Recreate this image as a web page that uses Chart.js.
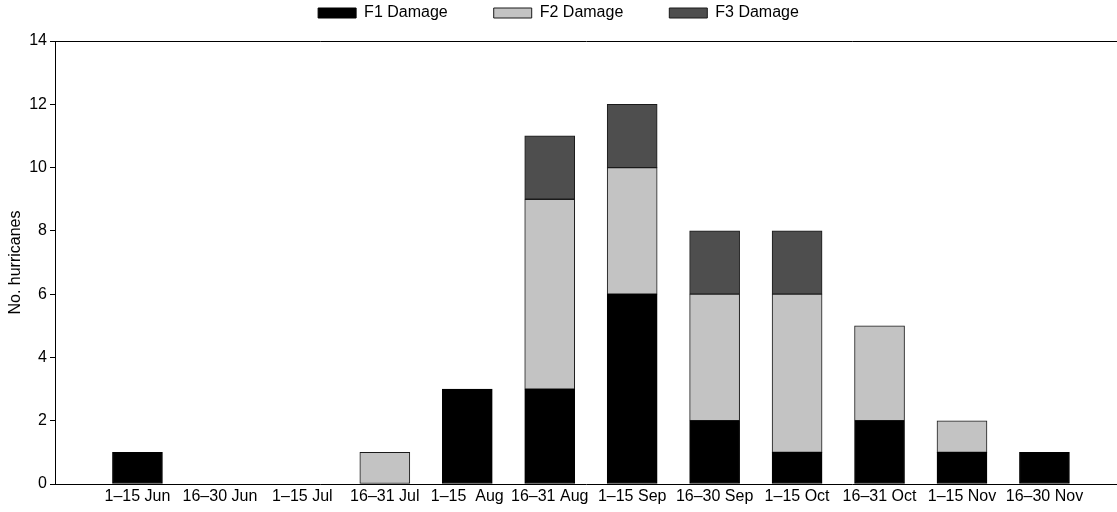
<!DOCTYPE html>
<html>
<head>
<meta charset="utf-8">
<script src="https://cdn.jsdelivr.net/npm/chart.js@4.4.0/dist/chart.umd.min.js"></script>
<style>
html,body{margin:0;padding:0;background:#fff;}
#wrap{width:1117px;height:512px;position:relative;}
</style>
</head>
<body>
<div id="wrap"><canvas id="c"></canvas></div>
<script>
const categories = ['1–15 Jun', '16–30 Jun', '1–15 Jul', '16–31 Jul', '1–15  Aug', '16–31 Aug',
                    '1–15 Sep', '16–30 Sep', '1–15 Oct', '16–31 Oct', '1–15 Nov', '16–30 Nov'];
const f1Damage = [1, 0, 0, 0, 3, 3, 6, 2, 1, 2, 1, 1];
const f2Damage = [0, 0, 0, 1, 0, 6, 4, 4, 5, 3, 1, 0];
const f3Damage = [0, 0, 0, 0, 0, 2, 2, 2, 2, 0, 0, 0];
const seriesNames = ['F1 Damage', 'F2 Damage', 'F3 Damage'];
const yTicks = [0, 2, 4, 6, 8, 10, 12, 14];

const FONT = "'Liberation Sans', Arial, sans-serif";
// zero values are simply not drawn
const toPoints = arr => arr.map((v, i) => ({x: i, y: v})).filter(p => p.y !== 0);

const X_MIN = -1, X_MAX = 11.88;

new Chart(document.getElementById('c'), {
  type: 'bar',
  data: {
    datasets: [
      {label: seriesNames[0], data: toPoints(f1Damage), backgroundColor: '#000000', borderColor: '#000000', borderWidth: 1, borderSkipped: false},
      {label: seriesNames[1], data: toPoints(f2Damage), backgroundColor: '#c3c3c3', borderColor: '#1a1a1a', borderWidth: 1, borderSkipped: false},
      {label: seriesNames[2], data: toPoints(f3Damage), backgroundColor: '#4e4e4e', borderColor: '#1a1a1a', borderWidth: 1, borderSkipped: false}
    ]
  },
  options: {
    responsive: true,
    maintainAspectRatio: false,
    animation: false,
    layout: {padding: {top: -41, right: 0, left: 0, bottom: 0}},
    barThickness: 50,
    plugins: {
      legend: {
        position: 'top',
        labels: {
          font: {family: FONT, size: 16},
          color: '#000',
          boxWidth: 38,
          boxHeight: 10,
          padding: 46
        }
      },
      tooltip: {enabled: false}
    },
    scales: {
      x: {
        type: 'linear',
        stacked: true,
        offset: false,
        min: X_MIN,
        max: X_MAX,
        afterFit: s => { s.height = 28; },
        afterBuildTicks: s => { s.ticks = categories.map((c, i) => ({value: i})); },
        ticks: {
          autoSkip: false,
          maxRotation: 0,
          minRotation: 0,
          padding: 3,
          color: '#000',
          font: {family: FONT, size: 16},
          callback: v => categories[v] !== undefined ? categories[v] : ''
        },
        grid: {display: false, drawTicks: false},
        border: {display: true, color: '#000', width: 1}
      },
      x2: {
        type: 'linear',
        position: 'top',
        offset: false,
        min: X_MIN,
        max: X_MAX,
        afterFit: s => { s.height = 10; },
        ticks: {display: false},
        grid: {display: false, drawTicks: false},
        border: {display: true, color: '#000', width: 1}
      },
      y: {
        stacked: true,
        min: 0,
        max: 14,
        afterFit: s => { s.width = 55; },
        afterBuildTicks: s => { s.ticks = yTicks.map(v => ({value: v})); },
        ticks: {
          color: '#000',
          padding: 3,
          font: {family: FONT, size: 16}
        },
        grid: {display: true, drawOnChartArea: false, drawTicks: true, tickLength: 5, color: '#000'},
        border: {display: true, color: '#000', width: 1},
        title: {
          display: true,
          text: 'No. hurricanes',
          color: '#000',
          font: {family: FONT, size: 16},
          padding: {top: 6, bottom: 0}
        }
      }
    }
  }
});
</script>
</body>
</html>
